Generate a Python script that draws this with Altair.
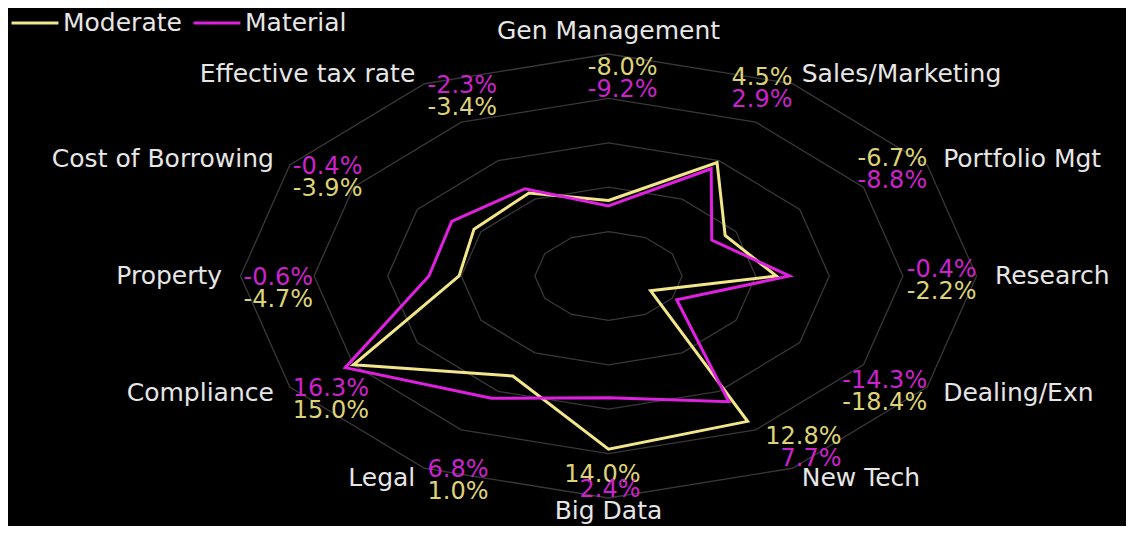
import math
import altair as alt
import pandas as pd

# ---------------- data ----------------
categories = ["Gen Management", "Sales/Marketing", "Portfolio Mgt", "Research",
              "Dealing/Exn", "New Tech", "Big Data", "Legal", "Compliance",
              "Property", "Cost of Borrowing", "Effective tax rate"]
moderate = [-8.0, 4.5, -6.7, -2.2, -18.4, 12.8, 14.0, 1.0, 15.0, -4.7, -3.9, -3.4]
material = [-9.2, 2.9, -8.8, -0.4, -14.3, 7.7, 2.4, 6.8, 16.3, -0.6, -0.4, -2.3]
series_names = ["Moderate", "Material"]
ring_ticks = [-15, -5, 5, 15, 25]
r_min, r_max = -25, 25

# ---------------- style ----------------
LINE_COLORS = ["#f2e68a", "#e020e0"]
TEXT_COLORS = ["#ddd275", "#cc22cc"]
LABEL_COLOR = "#e6e6e6"
GRID_COLOR = "#383838"
FONT = "DejaVu Sans"
CAT_SIZE = 25
VAL_SIZE = 24

W, H = 1118, 518          # plot area (page minus 8px margins)
CX, CY = 600.5, 268.0     # centre of the radar in view pixels
RX, RY = 368.0, 222.0     # outer-ring radius in pixels (x / y)

x_dom = [-CX / RX, (W - CX) / RX]
y_dom = [-(H - CY) / RY, CY / RY]
xs = alt.Scale(domain=x_dom, nice=False, zero=False)
ys = alt.Scale(domain=y_dom, nice=False, zero=False)
N = len(categories)

# ---------------- tables ----------------
rows = []
for i, c in enumerate(categories):
    rows.append({"cat": c, "idx": i, "series": "Moderate", "value": moderate[i]})
    rows.append({"cat": c, "idx": i, "series": "Material", "value": material[i]})
df = pd.DataFrame(rows)
grid = pd.DataFrame([{"ring": t, "idx": i} for t in ring_ticks for i in range(N)])
cats = pd.DataFrame({"cat": categories, "idx": list(range(N))})

theta = f"datum.idx * 2 * PI / {N}"

# grid rings
grid_layer = alt.Chart(grid).transform_calculate(
    r=f"(datum.ring - ({r_min})) / ({r_max} - ({r_min}))",
    th=theta,
).transform_calculate(
    x="datum.r * sin(datum.th)", y="datum.r * cos(datum.th)"
).mark_line(interpolate="linear-closed", stroke=GRID_COLOR, strokeWidth=1.3).encode(
    x=alt.X("x:Q", scale=xs, axis=None),
    y=alt.Y("y:Q", scale=ys, axis=None),
    detail="ring:N",
    order="idx:Q",
)

# series polygons
lines = alt.Chart(df).transform_calculate(
    r=f"(datum.value - ({r_min})) / ({r_max} - ({r_min}))",
    th=theta,
).transform_calculate(
    x="datum.r * sin(datum.th)", y="datum.r * cos(datum.th)"
).mark_line(interpolate="linear-closed", strokeWidth=3).encode(
    x=alt.X("x:Q", scale=xs, axis=None),
    y=alt.Y("y:Q", scale=ys, axis=None),
    color=alt.Color(
        "series:N",
        scale=alt.Scale(domain=series_names, range=LINE_COLORS),
        sort=series_names,
        legend=alt.Legend(
            title=None, orient="none", legendX=2, legendY=-10,
            direction="horizontal", symbolType="stroke", symbolSize=2200,
            symbolStrokeWidth=3, labelColor=LABEL_COLOR, labelFont=FONT,
            labelFontSize=CAT_SIZE, labelOffset=3, columnPadding=5, padding=0,
        ),
    ),
    order="idx:Q",
)

# category labels
def cat_layer(filter_expr, radius, align):
    return alt.Chart(cats).transform_filter(filter_expr).transform_calculate(
        th=theta
    ).transform_calculate(
        x=f"{radius} * sin(datum.th)", y=f"{radius} * cos(datum.th)"
    ).mark_text(align=align, baseline="middle", font=FONT, fontSize=CAT_SIZE,
                color=LABEL_COLOR).encode(
        x=alt.X("x:Q", scale=xs, axis=None),
        y=alt.Y("y:Q", scale=ys, axis=None),
        text="cat:N",
    )

cat_right = cat_layer("datum.idx >= 1 && datum.idx <= 5", 1.05, "left")
cat_left = cat_layer("datum.idx >= 7", 1.05, "right")
cat_top = cat_layer("datum.idx == 0", 1.105, "center")
cat_bottom = cat_layer("datum.idx == 6", 1.058, "center")

# value labels
def val_layer(filter_expr, align, sx, dy_top, gap):
    return alt.Chart(df).transform_window(
        rank="row_number()",
        sort=[alt.SortField("value", order="descending")],
        groupby=["idx"],
    ).transform_filter(filter_expr).transform_calculate(
        th=theta,
        sx=sx, dyt=dy_top, gap=gap,
        label="replace(format(datum.value, '.1f'), '\u2212', '-') + '%'",
    ).transform_calculate(
        x=f"sin(datum.th) + datum.sx / {RX}",
        y=f"cos(datum.th) - (datum.dyt + (datum.rank - 1) * datum.gap) / {RY}",
    ).mark_text(align=align, baseline="middle", font=FONT, fontSize=VAL_SIZE).encode(
        x=alt.X("x:Q", scale=xs, axis=None),
        y=alt.Y("y:Q", scale=ys, axis=None),
        text="label:N",
        color=alt.Color("series:N",
                        scale=alt.Scale(domain=series_names, range=TEXT_COLORS),
                        legend=None),
    )

val_right = val_layer(
    "datum.idx <= 6", "right",
    "datum.idx == 0 || datum.idx == 5 ? 49 : (datum.idx == 6 ? 32 : 0)",
    "datum.idx == 0 ? 14 : (datum.idx == 5 ? -31 : (datum.idx == 6 ? -23 : -6))",
    "datum.idx == 6 ? 15 : 22",
)
val_left = val_layer("datum.idx >= 7", "left", "3", "2", "22")

chart = alt.layer(
    grid_layer, lines, cat_right, cat_left, cat_top, cat_bottom, val_right, val_left
).resolve_scale(color="independent").properties(
    width=W, height=H, padding=0,
    autosize=alt.AutoSizeParams(type="none"),
    background="#000000",
).configure_view(strokeWidth=0)

chart.save("out.html", embed_options={"renderer": "svg", "actions": False})
